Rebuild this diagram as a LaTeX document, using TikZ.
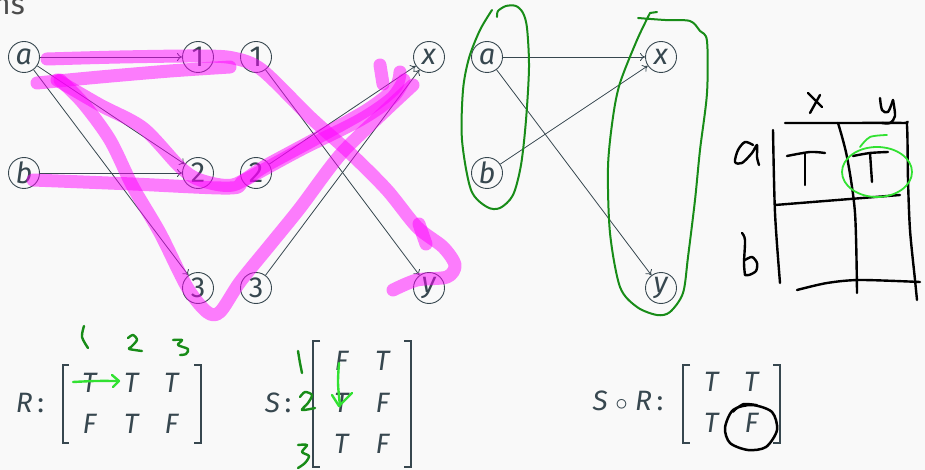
\documentclass[tikz,border=0pt]{standalone}
\usepackage{fontspec}
\setmainfont{Fira Sans}
\usetikzlibrary{arrows.meta}

\definecolor{ink}{RGB}{55,71,79}
\definecolor{paper}{RGB}{249,249,249}
\definecolor{marker}{RGB}{255,0,255}
\definecolor{pen}{RGB}{24,140,24}
\definecolor{lime}{RGB}{50,225,50}

\begin{document}
\begin{tikzpicture}[x=1pt, y=-1pt,
    vertex/.style={draw=ink, text=ink, circle, line width=0.9pt, minimum size=31pt,
        inner sep=0pt, font=\fontsize{29}{32}\selectfont},
    edge/.style={-{To[length=5pt,width=8pt]}, ink, line width=0.8pt},
    entry/.style={text=ink, anchor=base, inner sep=0pt, font=\fontsize{28}{32}\selectfont},
    bracket/.style={ink, line width=1.3pt},
    highlight/.style={marker, line width=13pt, opacity=0.5, line cap=round, line join=round},
    hand/.style={line width=2.4pt, line cap=round, line join=round},
]

    % 0. Page
    \useasboundingbox (0,0) rectangle (925,470);
    \fill[paper] (0,0) rectangle (925,470);
    \node[text=black!70, anchor=base east, inner sep=0pt, font=\fontsize{30}{34}\selectfont]
        (title) at (25,15) {ns};

    % 1. Composition graph R then S
    \node[vertex] (a)  at (24,57)   {\textit{a}};
    \node[vertex] (b)  at (24,173)  {\textit{b}};
    \node[vertex] (r1) at (198,57)  {1};
    \node[vertex] (r2) at (198,173) {2};
    \node[vertex] (r3) at (198,288) {3};
    \node[vertex] (s1) at (256,57)  {1};
    \node[vertex] (s2) at (256,173) {2};
    \node[vertex] (s3) at (256,288) {3};
    \node[vertex] (x)  at (429,57)  {\textit{x}};
    \node[vertex] (y)  at (429,288) {\textit{y}};

    \foreach \from/\to in {a/r1, a/r2, a/r3, b/r2, s1/y, s2/x, s3/x}
        \draw[edge] (\from) -- (\to);

    % 2. Resulting relation S o R
    \node[vertex] (ra) at (487,57)  {\textit{a}};
    \node[vertex] (rb) at (487,173) {\textit{b}};
    \node[vertex] (rx) at (661,57)  {\textit{x}};
    \node[vertex] (ry) at (661,288) {\textit{y}};

    \foreach \from/\to in {ra/rx, ra/ry, rb/rx}
        \draw[edge] (\from) -- (\to);

    % 3. Matrices
    \node[entry] (Rlabel) at (30,412) {\textit{R}\,:};
    \foreach \n/\x/\y/\v in {R11/90/392/T, R12/132/392/T, R13/172/392/T,
                             R21/90/433/F, R22/132/433/T, R23/172/433/F}
        \node[entry] (\n) at (\x,\y) {\textit{\v}};
    \draw[bracket] (69,365) -- (63,365) -- (63,443) -- (69,443);
    \draw[bracket] (194,365) -- (201,365) -- (201,443) -- (194,443);

    \node[entry] (Slabel) at (278,412) {\textit{S}\,:};
    \foreach \n/\x/\y/\v in {S11/342/370/F, S12/383/370/T,
                             S21/342/412/T, S22/383/412/F,
                             S31/342/453/T, S32/383/453/F}
        \node[entry] (\n) at (\x,\y) {\textit{\v}};
    \draw[bracket] (320,341) -- (313,341) -- (313,467) -- (320,467);
    \draw[bracket] (404,341) -- (411,341) -- (411,467) -- (404,467);

    \node[entry] (Clabel) at (628,410) {\textit{S} $\circ$ \textit{R}\,:};
    \foreach \n/\x/\y/\v in {C11/712/391/T, C12/752/391/T,
                             C21/712/432/T, C22/752/432/F}
        \node[entry] (\n) at (\x,\y) {\textit{\v}};
    \draw[bracket] (690,365) -- (683,365) -- (683,443) -- (690,443);
    \draw[bracket] (773,365) -- (780,365) -- (780,443) -- (773,443);

    % 4. Marker strokes over the paths
    \draw[highlight] plot[smooth] coordinates {(47,59) (120,57) (198,56) (233,58) (262,70)
        (310,117) (350,153) (387,190) (417,227) (443,247) (455,265) (447,277) (417,280) (393,290)};
    \draw[highlight] plot[smooth] coordinates {(37,83) (100,77) (170,71) (230,67)};
    \draw[highlight] (419,224) -- (426,244);
    \draw[highlight] plot[smooth] coordinates {(57,80) (100,105) (143,128) (180,167) (200,180)
        (233,185) (267,165) (317,138) (367,110) (395,88) (400,72)};
    \draw[highlight] plot[smooth] coordinates {(33,180) (133,184) (230,188) (245,180) (300,150)
        (360,120) (392,98) (404,80)};
    \draw[highlight] (380,65) -- (383,84);
    \draw[highlight] plot[smooth] coordinates {(60,80) (83,103) (110,140) (133,187) (160,233)
        (187,287) (207,312) (220,312) (240,282) (270,245) (300,208) (340,155) (383,113) (413,85)};

    % 5. Green pen: domain and codomain loops
    \draw[pen, hand, line width=2pt] plot[smooth] coordinates {(497,17) (498,11) (506,6) (516,6)
        (523,13) (527,28) (529,67) (526,120) (521,165) (513,195) (500,208) (487,207) (471,190)
        (462,140) (463,90) (469,58) (480,30) (492,10)};
    \draw[pen, hand, line width=2pt] plot[smooth] coordinates {(638,18) (665,20) (690,21) (700,31)
        (707,41) (707,93) (700,150) (695,200) (688,257) (683,293) (670,312) (657,315) (637,307)
        (620,287) (610,233) (608,167) (613,117) (620,83) (637,40) (650,13)};
    \draw[pen, hand, line width=2pt] (650,13) -- (657,12);

    % 6. Green pen: row / column numbers
    \draw[pen, hand] plot[smooth] coordinates {(84,326) (82,337) (88,348)};
    \draw[pen, hand] plot[smooth] coordinates {(128,338) (133,335) (137,340) (131,347) (129,349) (142,351)};
    \draw[pen, hand] plot[smooth] coordinates {(173,340) (182,340) (178,345) (188,349) (186,354) (180,355)};
    \draw[pen, hand] plot[smooth] coordinates {(298,351) (300,363) (302,373)};
    \draw[pen, hand] plot[smooth] coordinates {(300,397) (305,392) (312,395) (308,403) (302,410) (315,408)};
    \draw[pen, hand] plot[smooth] coordinates {(298,445) (307,445) (302,452) (309,456) (305,463) (298,468)};
    \draw[lime, hand] plot[smooth] coordinates {(73,382) (95,381) (118,381)};
    \draw[lime, hand] (112,375) -- (119,381) -- (113,387);
    \draw[lime, hand] plot[smooth] coordinates {(339,363) (338,383) (340,406)};
    \draw[lime, hand] (332,395) -- (339,406) -- (352,393);

    % 7. Hand drawn table
    \draw[black, hand] plot[smooth] coordinates {(753,145) (745,142) (738,150) (735,162) (742,163)
        (752,153) (757,145) (757,157) (759,165)};
    \draw[black, hand] plot[smooth] coordinates {(742,233) (745,240) (744,263) (745,275)};
    \draw[black, hand] plot[smooth] coordinates {(745,260) (752,257) (757,263) (756,271) (749,275) (745,275)};
    \draw[black, hand] (808,93) -- (822,107);
    \draw[black, hand] (820,95) -- (810,113);
    \draw[black, hand] plot[smooth] coordinates {(880,98) (882,110) (888,112) (893,100)};
    \draw[black, hand] plot[smooth] coordinates {(893,100) (895,116) (890,123) (882,123)};
    \draw[black, hand] plot[smooth] coordinates {(785,123) (850,123) (903,123) (907,126)
        (908,180) (910,230) (915,280) (917,300)};
    \draw[black, hand] plot[smooth] coordinates {(773,130) (775,213) (780,283)};
    \draw[black, hand] plot[smooth] coordinates {(838,123) (847,157) (855,213) (857,293)};
    \draw[black, hand] (775,205) -- (900,195);
    \draw[black, hand] plot[smooth] coordinates {(797,290) (827,283) (860,280) (920,282)};
    \draw[black, hand] plot[smooth] coordinates {(787,156) (810,152) (825,153)};
    \draw[black, hand] (805,153) -- (805,185);
    \draw[black, hand] plot[smooth] coordinates {(853,156) (870,153) (888,152)};
    \draw[black, hand] (870,153) -- (872,182);
    \draw[lime, hand, line width=1.8pt] (877,172) ellipse[x radius=35, y radius=25];
    \draw[lime, hand, line width=1.8pt] plot[smooth] coordinates {(860,147) (870,137) (887,135)};

    % 8. Black circle on the false entry
    \draw[black, hand, line width=2.5pt] plot[smooth cycle] coordinates {(733,410) (752,405) (772,412)
        (777,430) (766,447) (748,450) (730,443) (725,428)};
    \draw[black, hand, line width=2pt] plot[smooth] coordinates {(733,412) (743,404) (757,405)};
\end{tikzpicture}
\end{document}
